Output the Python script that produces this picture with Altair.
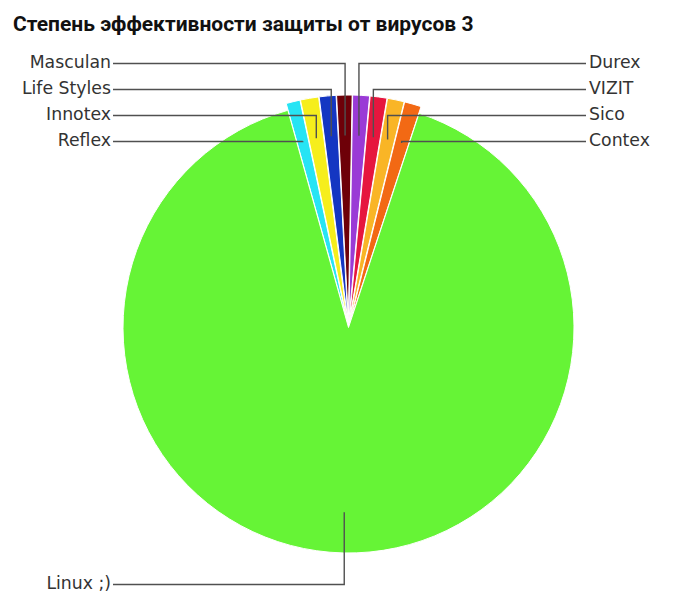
import math
import altair as alt
import pandas as pd

TITLE = "Степень эффективности защиты от вирусов 3"
names = ["Reflex", "Innotex", "Life Styles", "Masculan", "Durex", "VIZIT", "Sico", "Contex", "Linux ;)"]
values = [1.0, 1.3, 1.2, 1.1, 1.2, 1.2, 1.2, 1.2, 90.6]
colors = ["#27E4F4", "#F6EE1C", "#1436C2", "#6E0008", "#9A3AD6", "#E6163E", "#F9B526", "#F26914", "#66F436"]

# ---- layout (page pixels) ----
PAD_TOP = 6
TITLE_OFFSET = 5
PLOT_TOP = 38.5          # measured top of the plot area on the page
PLOT_LEFT = 8
CX, CY, R = 348.5, 326.0, 225.5
EXPLODE = 7.0
ANCHOR_R = 0.82 * R
START_DEG = -15.6
LEFT_X, RIGHT_X = 113, 586
ROW0, ROW_STEP, BOTTOM_ROW = 62, 26, 583
side = {"Reflex": ("L", 3), "Innotex": ("L", 2), "Life Styles": ("L", 1), "Masculan": ("L", 0),
        "Durex": ("R", 0), "VIZIT": ("R", 1), "Sico": ("R", 2), "Contex": ("R", 3), "Linux ;)": ("L", None)}

def px(x):
    return x - PLOT_LEFT

def py(y):
    return y - PLOT_TOP

total = sum(values)
slices, lines, labels = [], [], []
acc = 0.0
for i, (n, v) in enumerate(zip(names, values)):
    mid = math.radians(START_DEG + 360.0 * (acc + v / 2) / total)
    acc += v
    d = 0.0 if n.startswith("Linux") else EXPLODE
    cx = CX + d * math.sin(mid)
    cy = CY - d * math.cos(mid)
    slices.append({"name": n, "value": v, "idx": i, "cx": px(cx), "cy": py(cy)})
    ax = cx + ANCHOR_R * math.sin(mid)
    ay = cy - ANCHOR_R * math.cos(mid)
    s, r = side[n]
    row_y = BOTTOM_ROW if r is None else ROW0 + r * ROW_STEP
    end_x = LEFT_X if s == "L" else RIGHT_X
    for k, (xx, yy) in enumerate([(end_x, row_y), (ax, row_y), (ax, ay)]):
        lines.append({"name": n, "step": k, "x": px(xx), "y": py(yy)})
    labels.append({"name": n, "side": s, "x": px(end_x - 2 if s == "L" else end_x + 3), "y": py(row_y)})

sdf = pd.DataFrame(slices)
ldf = pd.DataFrame(lines)
tdf = pd.DataFrame(labels)

a0 = math.radians(START_DEG)
pie = alt.Chart(sdf).mark_arc(outerRadius=R, stroke="white", strokeWidth=1).encode(
    theta=alt.Theta("value:Q", stack=True, scale=alt.Scale(range=[a0, a0 + 2 * math.pi])),
    order=alt.Order("idx:Q", sort="ascending"),
    color=alt.Color("name:N", scale=alt.Scale(domain=names, range=colors), legend=None),
    x=alt.X("cx:Q", scale=None, axis=None),
    y=alt.Y("cy:Q", scale=None, axis=None),
)

leaders = alt.Chart(ldf).mark_line(color="#505050", strokeWidth=1.4).encode(
    x=alt.X("x:Q", scale=None, axis=None),
    y=alt.Y("y:Q", scale=None, axis=None),
    detail="name:N",
    order="step:Q",
)

txt_left = alt.Chart(tdf).transform_filter(alt.datum.side == "L").mark_text(
    align="right", baseline="middle", font="DejaVu Sans", fontSize=17.3, color="#333333", dy=-1
).encode(x=alt.X("x:Q", scale=None, axis=None), y=alt.Y("y:Q", scale=None, axis=None), text="name:N")

txt_right = alt.Chart(tdf).transform_filter(alt.datum.side == "R").mark_text(
    align="left", baseline="middle", font="DejaVu Sans", fontSize=17.3, color="#333333", dy=-1
).encode(x=alt.X("x:Q", scale=None, axis=None), y=alt.Y("y:Q", scale=None, axis=None), text="name:N")

chart = alt.layer(pie, leaders, txt_left, txt_right).properties(
    width=684,
    height=597 - 8 - 40,
    padding={"left": 0, "top": PAD_TOP, "right": 0, "bottom": 0},
    title=alt.Title(TITLE, anchor="start", font="Roboto", fontSize=21, fontWeight="bold",
                    color="#111111", dx=5, offset=TITLE_OFFSET),
).configure_view(strokeWidth=0)

chart.save("out.html", embed_options={"renderer": "svg", "actions": False})
